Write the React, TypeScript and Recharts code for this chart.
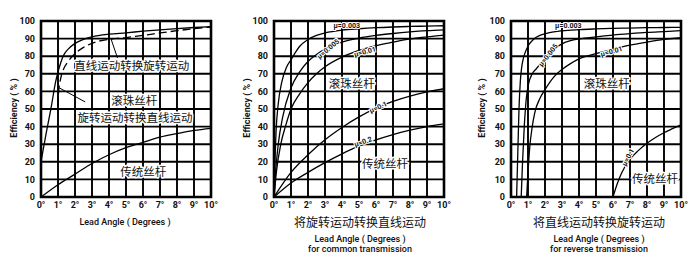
import React from 'react';
import {
  LineChart,
  Line,
  XAxis,
  YAxis,
  CartesianGrid,
  ReferenceArea,
  ReferenceDot,
  ReferenceLine,
} from 'recharts';

type Pt = [number, number];

// ---------- shared axis data ----------
const xTicks = [0, 1, 2, 3, 4, 5, 6, 7, 8, 9, 10];
const xTickLabels = ['0°', '1°', '2°', '3°', '4°', '5°', '6°', '7°', '8°', '9°', '10°'];
const yTicks = [0, 10, 20, 30, 40, 50, 60, 70, 80, 90, 100];
const yAxisTitle = 'Efficiency ( % )';
const xAxisTitle = 'Lead Angle ( Degrees )';

// ---------- panel 1 ----------
const p1BallForward: Pt[] = [
  [0, 20], [0.3, 36], [0.6, 51], [0.85, 65], [1, 71], [1.15, 76], [1.3, 80], [1.6, 84],
  [2, 87.3], [2.5, 89.6], [3, 91], [4, 92.5], [5, 93.3], [6, 94.2], [7, 95], [8, 95.7],
  [9, 96.3], [10, 96.8],
];
const p1BallReverse: Pt[] = [
  [1.0, 52], [1.05, 61], [1.15, 67], [1.3, 72], [1.6, 77], [1.9, 80.5], [2.5, 85],
  [3.2, 88], [4.2, 89.8], [5, 90.6], [6, 91.8], [7, 93.2], [8, 94.5], [9, 95.6], [10, 96.6],
];
const p1Traditional: Pt[] = [
  [0, 0], [1, 7], [2, 13], [3, 19], [4, 24], [5, 28], [6, 31], [7, 34], [8, 36], [9, 37.8], [10, 39],
];
const p1Labels = ['直线运动转换旋转运动', '滚珠丝杆', '旋转运动转换直线运动', '传统丝杆'];

// ---------- panel 2 (forward) ----------
const p2Mu0003: Pt[] = [
  [0, 0], [0.05, 18], [0.12, 37], [0.25, 53], [0.45, 65], [0.75, 74], [1, 78], [1.25, 82],
  [1.5, 85.5], [2, 89.5], [2.5, 91.8], [3, 93.2], [4, 94.8], [5, 95.6], [6, 96.2], [7, 96.6],
  [8, 96.9], [9, 97.1], [10, 97.3],
];
const p2Mu0005: Pt[] = [
  [0, 0], [0.1, 15], [0.25, 30], [0.5, 45], [1, 62], [1.5, 71], [2, 77], [2.5, 81], [3, 84],
  [3.5, 86.3], [4, 88], [5, 90.3], [6, 91.8], [7, 92.9], [8, 93.8], [9, 94.5], [10, 95],
];
const p2Mu001: Pt[] = [
  [0, 0], [0.15, 15], [0.4, 30], [0.7, 41], [1, 50], [1.5, 58.5], [2, 65], [2.5, 70], [3, 74],
  [4, 79.5], [5, 83.3], [6, 86], [7, 88], [8, 89.8], [9, 91], [10, 92],
];
const p2Mu01: Pt[] = [
  [0, 0], [1, 14], [2, 24], [3, 32.5], [4, 39.5], [5, 45.5], [6, 50.5], [7, 54.3], [8, 57.3],
  [9, 59.7], [10, 61.5],
];
const p2Mu02: Pt[] = [
  [0, 0], [1, 8], [2, 14], [3, 19.5], [4, 24.5], [5, 29], [6, 32.5], [7, 35.5], [8, 38],
  [9, 40], [10, 41.5],
];
const p2Title = '将旋转运动转换直线运动';
const p2Sub = 'for common transmission';

// ---------- panel 3 (reverse) ----------
const p3Mu0003: Pt[] = [
  [0.33, 0], [0.4, 25], [0.47, 50], [0.55, 66], [0.62, 73], [0.72, 78.5], [0.85, 82.5],
  [1.05, 86.5], [1.35, 89.8], [1.7, 91.8], [2.2, 93.2], [3, 94.4], [4, 95.1], [5, 95.5],
  [6, 95.8], [7, 96], [8, 96.2], [9, 96.3], [10, 96.4],
];
const p3Mu0005: Pt[] = [
  [0.6, 0], [0.68, 20], [0.78, 40], [0.9, 56], [1.05, 65], [1.25, 70], [1.5, 73], [1.8, 76.5],
  [2.2, 81], [2.6, 84.5], [3, 87], [3.5, 88.8], [4, 89.8], [5, 91], [6, 92], [7, 92.8],
  [8, 93.5], [9, 94], [10, 94.5],
];
const p3Mu001: Pt[] = [
  [0.92, 0], [1, 14], [1.1, 28], [1.25, 40], [1.4, 48], [1.7, 56], [2, 61], [2.5, 68], [3, 72.5],
  [3.5, 75.8], [4, 78.5], [5, 81.5], [6, 84], [7, 86.3], [8, 88], [9, 89.5], [10, 90.6],
];
const p3Mu01: Pt[] = [
  [6, 0], [6.25, 7.5], [6.5, 13.5], [7, 21.5], [7.5, 26.5], [8, 30.5], [8.5, 33.8], [9, 36.5],
  [9.5, 38.8], [10, 41],
];
const p3Title = '将直线运动转换旋转运动';
const p3Sub = 'for reverse transmission';

const muLabels = ['μ=0.003', 'μ=0.005', 'μ=0.01', 'μ=0.1', 'μ=0.2'];
const ballLabel = '滚珠丝杆';
const tradLabel = '传统丝杆';

// ---------- styling ----------
const LATIN = 'Roboto, "DejaVu Sans", sans-serif';
const CJK = '"Noto Sans CJK SC", "Noto Sans CJK JP", sans-serif';
const INK = '#111';

interface Series { pts: Pt[]; dashed?: boolean }
interface Note { x: number; y: number; text: string; angle?: number; kind: 'cn' | 'mu' }
interface TitleLine { text: string; dy: number; cn?: boolean }
interface PanelCfg {
  left: number;
  width: number;
  ml: number;
  mr: number;
  yTitleX: number;
  series: Series[];
  notes: Note[];
  leaders: [Pt, Pt][];
  titles: TitleLine[];
  titleDx: number;
}

const rows = (pts: Pt[]) => pts.map(([x, y]) => ({ x, y }));

const panels: PanelCfg[] = [
  {
    left: 0, width: 235, ml: 11, mr: 24, yTitleX: 13.5, titleDx: -1,
    series: [{ pts: p1BallForward }, { pts: p1BallReverse, dashed: true }, { pts: p1Traditional }],
    notes: [
      { x: 5.34, y: 75.2, text: p1Labels[0], kind: 'cn' },
      { x: 5.49, y: 55.3, text: p1Labels[1], kind: 'cn' },
      { x: 5.53, y: 45.2, text: p1Labels[2], kind: 'cn' },
      { x: 6.02, y: 14.5, text: p1Labels[3], kind: 'cn' },
    ],
    leaders: [
      [[4.12, 89.8], [4.5, 79]],
      [[0.98, 62.5], [2.6, 54]],
    ],
    titles: [{ text: xAxisTitle, dy: 24.7 }],
  },
  {
    left: 235, width: 235, ml: 9, mr: 26, yTitleX: 11.7, titleDx: 1,
    series: [{ pts: p2Mu0003 }, { pts: p2Mu0005 }, { pts: p2Mu001 }, { pts: p2Mu01 }, { pts: p2Mu02 }],
    notes: [
      { x: 4.28, y: 97, text: muLabels[0], kind: 'mu' },
      { x: 3.2, y: 84, text: muLabels[1], kind: 'mu', angle: -40 },
      { x: 5.35, y: 82.3, text: muLabels[2], kind: 'mu', angle: -15 },
      { x: 4.57, y: 64.8, text: ballLabel, kind: 'cn' },
      { x: 6.14, y: 50.8, text: muLabels[3], kind: 'mu', angle: -25 },
      { x: 5.25, y: 31.2, text: muLabels[4], kind: 'mu', angle: -20 },
      { x: 6.53, y: 19.3, text: tradLabel, kind: 'cn' },
    ],
    leaders: [],
    titles: [
      { text: p2Title, dy: 24.7, cn: true },
      { text: xAxisTitle, dy: 42 },
      { text: p2Sub, dy: 51.5 },
    ],
  },
  {
    left: 470, width: 230, ml: 11, mr: 19, yTitleX: 11.7, titleDx: 3,
    series: [{ pts: p3Mu0003 }, { pts: p3Mu0005 }, { pts: p3Mu001 }, { pts: p3Mu01 }],
    notes: [
      { x: 3.37, y: 97.2, text: muLabels[0], kind: 'mu' },
      { x: 2.2, y: 80.5, text: muLabels[1], kind: 'mu', angle: -52 },
      { x: 5.92, y: 82.5, text: muLabels[2], kind: 'mu', angle: -15 },
      { x: 5.63, y: 64.6, text: ballLabel, kind: 'cn' },
      { x: 6.9, y: 22.5, text: muLabels[3], kind: 'mu', angle: -62 },
      { x: 8.47, y: 10.6, text: tradLabel, kind: 'cn' },
    ],
    leaders: [],
    titles: [
      { text: p3Title, dy: 24.7, cn: true },
      { text: xAxisTitle, dy: 42 },
      { text: p3Sub, dy: 51.5 },
    ],
  },
];

const NoteText = ({ cx, cy, note }: { cx: number; cy: number; note: Note }) => {
  const angle = note.angle ?? 0;
  const isCn = note.kind === 'cn';
  return (
    <text
      x={cx}
      y={cy}
      textAnchor="middle"
      dominantBaseline="central"
      transform={angle ? `rotate(${angle} ${cx} ${cy})` : undefined}
      fontFamily={isCn ? CJK : LATIN}
      fontSize={isCn ? 11.5 : 7}
      fontWeight={isCn ? 400 : 700}
      fill={INK}
      stroke="#fff"
      strokeWidth={isCn ? 3 : 2.2}
      paintOrder="stroke"
      strokeLinejoin="round"
    >
      {note.text}
    </text>
  );
};

const Panel = ({ cfg }: { cfg: PanelCfg }) => {
  const yAxisWidth = 30;
  return (
    <div style={{ position: 'absolute', left: cfg.left, top: 0 }}>
      <LineChart
        width={cfg.width}
        height={261}
        margin={{ top: 21, right: cfg.mr, bottom: 34, left: cfg.ml }}
      >
        <CartesianGrid stroke="#000" strokeWidth={1.9} />
        <XAxis
          type="number"
          dataKey="x"
          domain={[0, 10]}
          ticks={xTicks}
          interval={0}
          allowDataOverflow
          axisLine={false}
          tickLine={false}
          tickSize={0}
          tickMargin={5}
          height={30}
          tickFormatter={(v: number) => xTickLabels[xTicks.indexOf(v)] ?? String(v)}
          tick={{ fontSize: 9, fontFamily: LATIN, fontWeight: 700, fill: INK }}
          label={(p: any) => {
            const vb = p.viewBox || {};
            const cx = (vb.x ?? 0) + (vb.width ?? 0) / 2 + cfg.titleDx;
            const top = vb.y ?? 197;
            return (
              <g>
                {cfg.titles.map((t, i) => (
                  <text
                    key={i}
                    x={cx}
                    y={top + t.dy}
                    textAnchor="middle"
                    dominantBaseline="central"
                    fontFamily={t.cn ? CJK : LATIN}
                    fontSize={t.cn ? 12 : 9}
                    fontWeight={t.cn ? 400 : 500}
                    fill={INK}
                  >
                    {t.text}
                  </text>
                ))}
              </g>
            );
          }}
        />
        <YAxis
          type="number"
          domain={[0, 100]}
          ticks={yTicks}
          interval={0}
          width={yAxisWidth}
          axisLine={false}
          tickLine={false}
          tickSize={0}
          tickMargin={6}
          tick={{ fontSize: 9, fontFamily: LATIN, fontWeight: 700, fill: INK }}
          label={(p: any) => {
            const vb = p.viewBox || {};
            const cy = (vb.y ?? 21) + (vb.height ?? 176) / 2 - 1;
            const cx = cfg.yTitleX;
            return (
              <text
                x={cx}
                y={cy}
                textAnchor="middle"
                dominantBaseline="central"
                transform={`rotate(-90 ${cx} ${cy})`}
                fontFamily={LATIN}
                fontSize={9}
                fontWeight={700}
                fill={INK}
              >
                {yAxisTitle}
              </text>
            );
          }}
        />
        <ReferenceArea
          x1={0}
          x2={10}
          y1={0}
          y2={100}
          fill="none"
          fillOpacity={0}
          stroke="#000"
          strokeWidth={2.6}
          ifOverflow="visible"
        />
        {cfg.series.map((s, i) => (
          <Line
            key={i}
            data={rows(s.pts)}
            dataKey="y"
            type="monotone"
            stroke="#000"
            strokeWidth={1.3}
            strokeDasharray={s.dashed ? '8 4' : undefined}
            dot={false}
            activeDot={false}
            isAnimationActive={false}
          />
        ))}
        {cfg.leaders.map((seg, i) => (
          <ReferenceLine
            key={`l${i}`}
            segment={[{ x: seg[0][0], y: seg[0][1] }, { x: seg[1][0], y: seg[1][1] }]}
            stroke="#000"
            strokeWidth={1}
            ifOverflow="visible"
          />
        ))}
        {cfg.notes.map((n, i) => (
          <ReferenceDot
            key={`n${i}`}
            x={n.x}
            y={n.y}
            r={0}
            ifOverflow="visible"
            shape={(p: any) => <NoteText cx={p.cx} cy={p.cy} note={n} />}
          />
        ))}
      </LineChart>
    </div>
  );
}

export default function App() {
  return (
    <div
      style={{
        position: 'absolute',
        left: 0,
        top: 0,
        width: 700,
        height: 261,
        background: '#fff',
        overflow: 'hidden',
      }}
    >
      {panels.map((cfg, i) => (
        <Panel key={i} cfg={cfg} />
      ))}
    </div>
  );
}
